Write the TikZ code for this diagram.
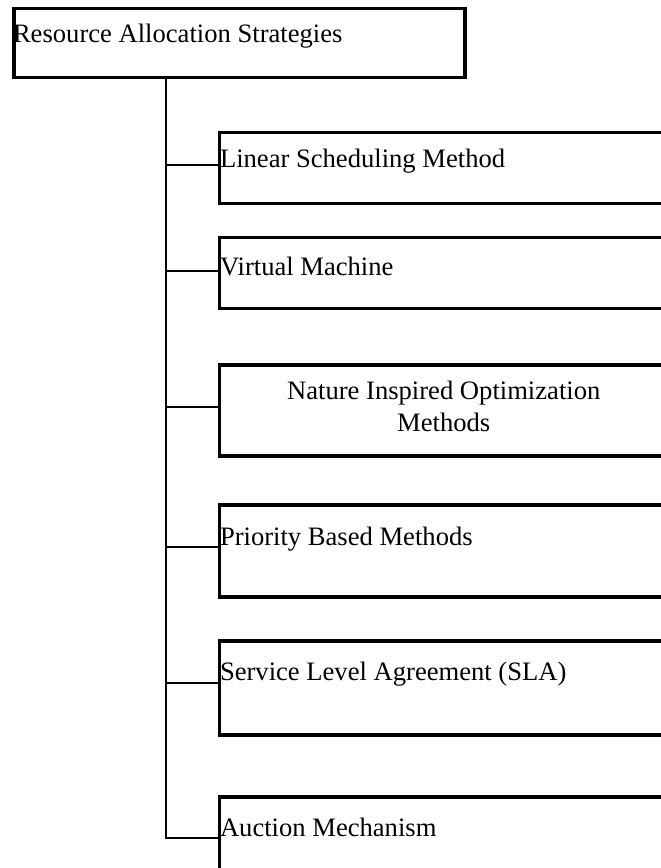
\documentclass[tikz,border=0pt]{standalone}
\usepackage{fontspec}
\setmainfont{Liberation Serif}
\begin{document}
\begin{tikzpicture}[x=1pt,y=-1pt,
  box/.style={draw=black,line width=3.2pt,inner sep=0pt,outer sep=0pt,anchor=north west,rectangle},
  lbl/.style={inner sep=0pt,outer sep=0pt,anchor=base west,font=\fontsize{26.6}{32}\selectfont},
  conn/.style={draw=black,line width=2pt}]
\useasboundingbox (0,0) rectangle (661,868);
\clip (0,0) rectangle (661,868);
% root
\node[box,minimum width=451pt,minimum height=69.4pt] (root) at (14,8.3) {};
\node[lbl] (troot) at (13,42.5) {Resource Allocation Strategies};
% children boxes
\node[box,minimum width=448.5pt,minimum height=71pt] (b1) at (219.5,132.5) {};
\node[box,minimum width=448.5pt,minimum height=71pt] (b2) at (219.5,237.5) {};
\node[box,minimum width=448.5pt,minimum height=91pt] (b3) at (219.5,365) {};
\node[box,minimum width=448.5pt,minimum height=92pt] (b4) at (219.5,505) {};
\node[box,minimum width=448.5pt,minimum height=94pt] (b5) at (219.5,641) {};
\node[box,minimum width=448.5pt,minimum height=110pt] (b6) at (219.5,797) {};
% texts
\node[lbl] (t1) at (220,167) {Linear Scheduling Method};
\node[lbl] (t2) at (220,275) {Virtual Machine};
\node[lbl,anchor=base,align=center] (t3) at (443.75,431) {Nature Inspired Optimization\\Methods};
\node[lbl] (t4) at (220,545) {Priority Based Methods};
\node[lbl] (t5) at (220,680) {Service Level Agreement (SLA)};
\node[lbl] (t6) at (220,836) {Auction Mechanism};
% trunk and connectors
\coordinate (top) at (166,77.7);
\coordinate (j1) at (166,165);
\coordinate (j2) at (166,271);
\coordinate (j3) at (166,407);
\coordinate (j4) at (166,547);
\coordinate (j5) at (166,683);
\coordinate (j6) at (166,838);
\draw[conn,line cap=rect] (top) -- (j6);
\draw[conn] (j1) -- (j1 -| b1.west);
\draw[conn] (j2) -- (j2 -| b2.west);
\draw[conn] (j3) -- (j3 -| b3.west);
\draw[conn] (j4) -- (j4 -| b4.west);
\draw[conn] (j5) -- (j5 -| b5.west);
\draw[conn] (j6) -- (j6 -| b6.west);
\end{tikzpicture}
\end{document}
